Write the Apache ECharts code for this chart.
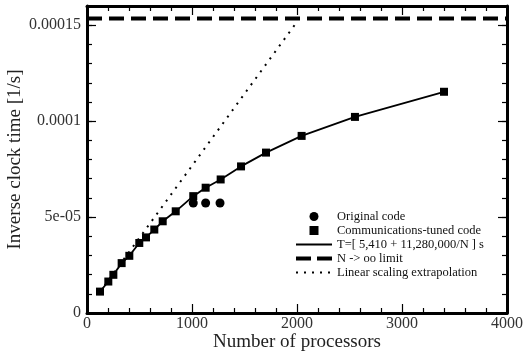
<!DOCTYPE html>
<html>
<head>
<meta charset="utf-8">
<script src="https://cdn.jsdelivr.net/npm/echarts@6/dist/echarts.min.js"></script>
<style>html,body{margin:0;padding:0;background:#fff;}#c{width:524px;height:356px;}</style>
</head>
<body>
<div id="c"></div>
<script>
// Data
var tunedN   = [124, 203, 251, 330, 403, 498, 562, 641, 721, 845, 1012, 1130, 1273, 1467, 1705, 2044, 2552, 3400];
var tunedVal = [1.115e-5, 1.64e-5, 1.99e-5, 2.6e-5, 2.98e-5, 3.65e-5, 3.94e-5, 4.35e-5, 4.78e-5, 5.3e-5, 6.09e-5, 6.53e-5, 6.96e-5, 7.64e-5, 8.36e-5, 9.23e-5, 1.022e-4, 1.153e-4];
var fitN     = [124, 203, 251, 330, 403, 498, 562, 641, 721, 845, 1012, 1130, 1273, 1467, 1705, 2044, 2552, 3400];
var fitVal   = [1.115e-5, 1.64e-5, 1.99e-5, 2.6e-5, 2.98e-5, 3.65e-5, 3.94e-5, 4.35e-5, 4.78e-5, 5.3e-5, 6.09e-5, 6.53e-5, 6.96e-5, 7.64e-5, 8.36e-5, 9.23e-5, 1.022e-4, 1.153e-4];
var origN    = [1012, 1130, 1267];
var origVal  = [5.73e-5, 5.73e-5, 5.73e-5];
var limitN   = [0, 4000];
var limitVal = [1.535e-4, 1.535e-4];
var linN     = [124, 1990];
var linVal   = [1.1e-5, 1.51e-4];
var xTicks   = [0, 1000, 2000, 3000, 4000];
var yTickValues = [0, 5e-5, 1e-4, 1.5e-4];
var yTickLabels = ['0', '5e-05', '0.0001', '0.00015'];
var names = ['Original code', 'Communications-tuned code', 'T=[ 5,410 + 11,280,000/N ] s', 'N -> oo limit', 'Linear scaling extrapolation'];

function pairs(a, b) { return a.map(function (v, i) { return [v, b[i]]; }); }

var serif = '"Liberation Serif", "DejaVu Serif", serif';
var chart = echarts.init(document.getElementById('c'), null, {renderer: 'canvas'});

function xAx(pos, labels) {
  return {
    type: 'value', position: pos, min: xTicks[0], max: xTicks[xTicks.length - 1], interval: 1000,
    axisLine: {show: true, onZero: false, lineStyle: {color: '#000', width: 3}},
    axisTick: {show: true, inside: true, length: 9, lineStyle: {color: '#000', width: 1.2}},
    minorTick: {show: true, splitNumber: 5, length: 5, lineStyle: {color: '#000', width: 1.2}},
    splitLine: {show: false}, minorSplitLine: {show: false},
    axisLabel: {show: labels, margin: 3, color: '#333', fontFamily: serif, fontSize: 16,
      formatter: function (v) { return String(Math.round(v)); }},
    name: labels ? 'Number of processors' : '', nameLocation: 'middle', nameGap: 20, nameMoveOverlap: false,
    nameTextStyle: {color: '#222', fontFamily: serif, fontSize: 19}
  };
}
function yAx(pos, interval, len, labels, line) {
  return {
    type: 'value', position: pos, min: 0, max: 1.6e-4, interval: interval,
    axisLine: {show: line, onZero: false, lineStyle: {color: '#000', width: 3}},
    axisTick: {show: true, inside: true, length: len, lineStyle: {color: '#000', width: 1.2}},
    splitLine: {show: false},
    axisLabel: {show: labels, margin: 6, color: '#333', fontFamily: serif, fontSize: 16,
      formatter: function (v) {
        for (var i = 0; i < yTickValues.length; i++) {
          if (Math.abs(v - yTickValues[i]) < 1e-9) return yTickLabels[i];
        }
        return '';
      }},
    name: labels ? 'Inverse clock time [1/s]' : '', nameLocation: 'middle', nameGap: 62, nameMoveOverlap: false,
    nameTextStyle: {color: '#222', fontFamily: serif, fontSize: 19}
  };
}

var option = {
  animation: false,
  backgroundColor: '#fff',
  grid: {left: 87, right: 17, top: 6, bottom: 43, containLabel: false, outerBoundsMode: 'none'},
  xAxis: [xAx('bottom', true), xAx('top', false)],
  yAxis: [yAx('left', 5e-5, 9, true, true), yAx('left', 1e-5, 5, false, false),
          yAx('right', 5e-5, 9, false, true), yAx('right', 1e-5, 5, false, false)],
  legend: {
    orient: 'vertical', left: 291, top: 205, itemWidth: 36, itemHeight: 9, itemGap: 1, itemTextGap: 7,
    textStyle: {color: '#111', fontFamily: serif, fontSize: 12.5, lineHeight: 13},
    data: [
      {name: names[0], icon: 'path://M0,4a4,4 0 1,0 8,0a4,4 0 1,0 -8,0z'},
      {name: names[1], icon: 'path://M0,0h8v8h-8z'},
      {name: names[2], icon: 'path://M0,0h36v2h-36z'},
      {name: names[3], icon: 'path://M0,0h15v4h-15z M21,0h15v4h-15z'},
      {name: names[4], icon: 'path://M0,0h2v2h-2z M8,0h2v2h-2z M16,0h2v2h-2z M24,0h2v2h-2z M32,0h2v2h-2z M34,0h2v0h-2z'}
    ]
  },
  series: [
    {name: names[3], type: 'line', data: pairs(limitN, limitVal), symbol: 'none', z: 3,
     lineStyle: {color: '#000', width: 4, type: [15, 7]}, itemStyle: {color: '#000'}},
    {name: names[4], type: 'line', data: pairs(linN, linVal), symbol: 'none', z: 3,
     lineStyle: {color: '#000', width: 2, type: [2, 6]}, itemStyle: {color: '#000'}},
    {name: names[2], type: 'line', data: pairs(fitN, fitVal), symbol: 'none', z: 4,
     lineStyle: {color: '#000', width: 1.8}, itemStyle: {color: '#000'}},
    {name: names[0], type: 'scatter', data: pairs(origN, origVal), symbol: 'circle', symbolSize: 9, z: 5,
     itemStyle: {color: '#000', opacity: 1}},
    {name: names[1], type: 'scatter', data: pairs(tunedN, tunedVal), symbol: 'rect', symbolSize: 8, z: 6,
     itemStyle: {color: '#000', opacity: 1}}
  ]
};
chart.setOption(option);
</script>
</body>
</html>
